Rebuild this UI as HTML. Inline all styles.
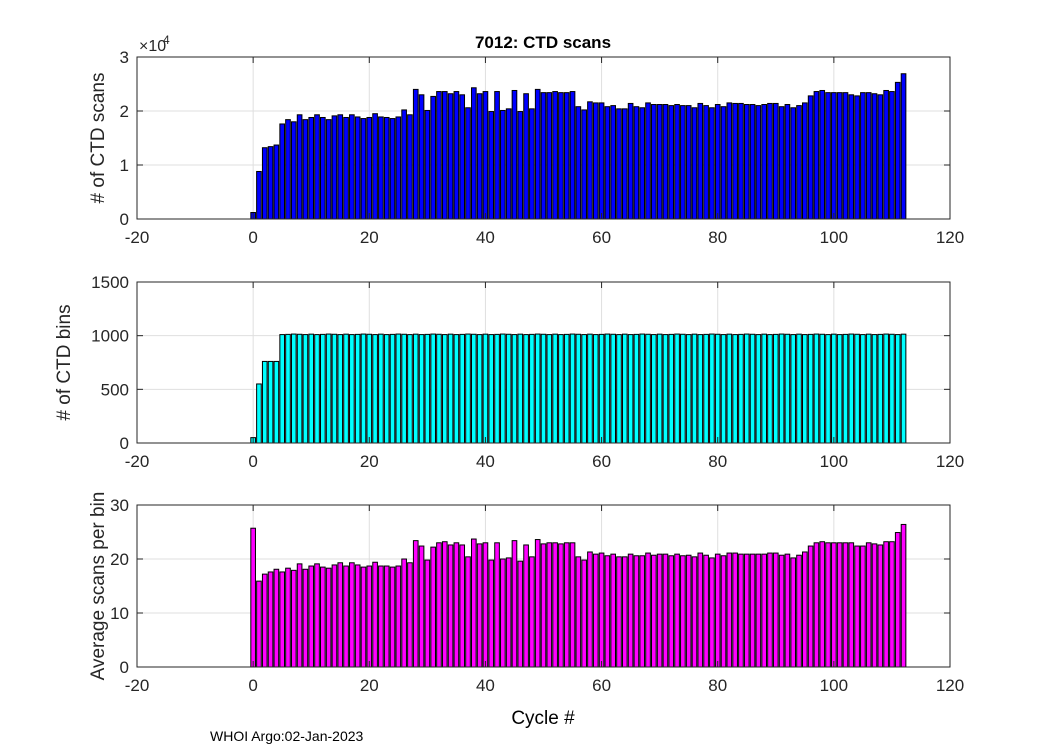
<!DOCTYPE html>
<html><head><meta charset="utf-8"><style>
body{margin:0;background:#fff;}
svg{display:block;font-family:"Liberation Sans",sans-serif;}
</style></head><body>
<svg id="chart" width="1050" height="750" viewBox="0 0 1050 750" xmlns="http://www.w3.org/2000/svg">
<rect width="1050" height="750" fill="#fff"/>
<text x="543" y="48" text-anchor="middle" font-size="17" font-weight="bold">7012: CTD scans</text>
<text x="543" y="724" text-anchor="middle" font-size="19">Cycle #</text>
<text x="210" y="741" font-size="14">WHOI Argo:02-Jan-2023</text>
</svg>
<script>
const cycles = Array.from({length:113},(_,i)=>i);
const scans = [0.12,0.88,1.32,1.34,1.37,1.76,1.84,1.80,1.93,1.84,1.88,1.93,1.88,1.84,1.91,1.93,1.88,1.93,1.89,1.86,
1.88,1.95,1.89,1.88,1.86,1.89,2.02,1.93,2.40,2.30,2.01,2.27,2.36,2.36,2.32,2.36,2.30,2.06,2.43,2.32,
2.36,1.99,2.36,2.01,2.04,2.38,1.99,2.32,2.04,2.40,2.34,2.34,2.36,2.34,2.34,2.36,2.08,2.02,2.17,2.15,
2.15,2.08,2.10,2.04,2.04,2.14,2.08,2.06,2.15,2.12,2.12,2.12,2.10,2.12,2.10,2.10,2.06,2.14,2.10,2.06,
2.12,2.08,2.15,2.14,2.14,2.12,2.12,2.10,2.12,2.14,2.14,2.08,2.12,2.06,2.10,2.15,2.28,2.36,2.38,2.34,
2.34,2.34,2.34,2.30,2.28,2.34,2.34,2.32,2.30,2.38,2.36,2.53,2.69];
const bins = [50,550,760,760,760].concat(Array.from({length:108},(_,i)=>[1010,1012,1015,1013,1010,1014][i%6]));
const avgScans = [25.7,15.9,17.2,17.6,18.1,17.6,18.3,17.9,19.1,18.1,18.7,19.1,18.5,18.3,18.9,19.3,18.7,19.3,18.9,18.5,
18.7,19.4,18.7,18.7,18.5,18.7,20.0,19.3,23.4,22.4,19.8,22.2,23.0,23.2,22.6,23.0,22.6,20.4,23.7,22.8,
23.0,19.8,23.0,20.0,20.2,23.4,19.6,22.6,20.4,23.6,22.8,23.0,23.0,22.8,23.0,23.0,20.4,19.8,21.3,20.9,
21.1,20.6,20.9,20.4,20.4,20.9,20.6,20.6,21.1,20.7,20.9,20.9,20.6,20.9,20.6,20.7,20.4,21.1,20.7,20.2,
20.9,20.6,21.1,21.1,20.9,20.9,20.9,20.9,20.9,21.1,21.1,20.7,20.9,20.2,20.7,21.3,22.4,23.0,23.2,23.0,
23.0,23.0,23.0,23.0,22.4,22.4,23.0,22.8,22.6,23.2,23.2,24.9,26.4];
const xTicks = [-20,0,20,40,60,80,100,120];
const yTicksTop = [0,1,2,3];
const yTicksMid = [0,500,1000,1500];
const yTicksBot = [0,10,20,30];

const NS="http://www.w3.org/2000/svg";
const svg=document.getElementById('chart');
function mk(tag,attrs,parent){const e=document.createElementNS(NS,tag);for(const k in attrs)e.setAttribute(k,attrs[k]);(parent||svg).appendChild(e);return e;}
const L=137,R=950;
function xs(v){return L+(v+20)/140*(R-L);}

function panel(name,top,bot,ymax,yticks,vals,color,ylabel,mult,labelX){
  const g=mk('g',{});
  
  
  const ys=v=>bot-(v/ymax)*(bot-top);
  mk('rect',{x:L,y:top,width:R-L,height:bot-top,fill:'#fff'},g);
  xTicks.forEach(t=>{
    const gl=mk('line',{x1:xs(t),x2:xs(t),y1:top,y2:bot,stroke:'#dfdfdf','stroke-width':1},g);
    
    
  });
  yticks.forEach(t=>{
    const gl=mk('line',{x1:L,x2:R,y1:ys(t),y2:ys(t),stroke:'#dfdfdf','stroke-width':1},g);
    
    
  });
  const bw=0.8*(xs(1)-xs(0));
  vals.forEach((v,i)=>{
    const y=ys(v);
    const b=mk('rect',{x:xs(cycles[i])-bw/2,y:y,width:bw,height:bot-y,fill:color,stroke:'#000','stroke-width':1},g);
    
    
  });
  mk('rect',{x:L,y:top,width:R-L,height:bot-top,fill:'none',stroke:'#262626','stroke-width':1},g);
  xTicks.forEach(t=>{
    mk('line',{x1:xs(t),x2:xs(t),y1:top,y2:top+6,stroke:'#262626'},g);
    mk('line',{x1:xs(t),x2:xs(t),y1:bot,y2:bot-6,stroke:'#262626'},g);
    const tx=mk('text',{x:xs(t),y:bot+24,'text-anchor':'middle','font-size':17,fill:'#262626'},g);
    tx.textContent=t;
    
    
  });
  yticks.forEach(t=>{
    mk('line',{x1:L,x2:L+6,y1:ys(t),y2:ys(t),stroke:'#262626'},g);
    mk('line',{x1:R,x2:R-6,y1:ys(t),y2:ys(t),stroke:'#262626'},g);
    const tx=mk('text',{x:L-8,y:ys(t)+6,'text-anchor':'end','font-size':17,fill:'#262626'},g);
    tx.textContent=t;
    
    
  });
  const cy=(top+bot)/2;
  const yl=mk('text',{x:0,y:0,transform:`translate(${labelX},${cy}) rotate(-90)`,'text-anchor':'middle','font-size':19,fill:'#262626'},g);
  yl.textContent=ylabel;
  
  
  if(mult){
    const m=mk('text',{x:139,y:top-6,'font-size':16,fill:'#262626'},g);
    m.textContent='\u00d710';
    
    
    const e=mk('text',{x:163,y:top-13,'font-size':12,fill:'#262626'},g);
    e.textContent='4';
    
    
  }
}
panel('scans-panel',57,219,3,yTicksTop,scans,'#0000ff','# of CTD scans',true,104);
panel('bins-panel',282,443,1500,yTicksMid,bins,'#00ffff','# of CTD bins',false,70);
panel('avg-panel',505,667,30,yTicksBot,avgScans,'#ff00ff','Average scans per bin',false,104);
</script>
</body></html>
